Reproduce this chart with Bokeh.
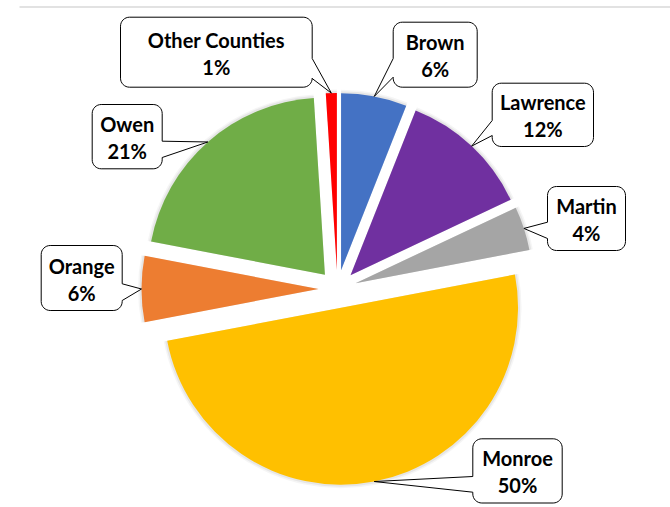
import math
from bokeh.plotting import figure
from bokeh.models import Range1d, ColumnDataSource
from bokeh.core.properties import value
from bokeh.embed import file_html
from bokeh.resources import INLINE

# ---- data ----
counties = ["Brown", "Lawrence", "Martin", "Monroe", "Orange", "Owen", "Other Counties"]
shares = [6, 12, 4, 50, 6, 21, 1]
colors = ["#4472C4", "#7030A0", "#A5A5A5", "#FFC000", "#ED7D31", "#70AD47", "#FF0000"]

# ---- layout (screen pixels, y down) ----
W, H = 670, 507
CX, CY = 337.0, 288.5      # pie centre
R = 177.0                  # pie radius
EXPLODE = 19.0             # slice explosion distance

# callout boxes: (left, top, right, bottom), pointer side, pointer base (y1, y2)
boxes = {
    "Other Counties": ((120, 16.7, 311.7, 86.7), "right", (58, 78)),
    "Brown": ((392.7, 21.7, 476.7, 86.7), "left", (58, 76.7)),
    "Lawrence": ((491.7, 82.7, 593, 146), "left", (120, 135)),
    "Martin": ((547, 186, 625, 250), "left", (221.7, 238)),
    "Owen": ((91.7, 104, 161.7, 168.3), "right", (140.7, 157)),
    "Orange": ((40.7, 245, 121.7, 310), "right", (283.3, 300)),
    "Monroe": ((472.3, 438.3, 561.7, 502.5), "left", (476, 491.7)),
}
CORNER = 9.0


def Y(y):
    return -y


p = figure(width=W, height=H, x_range=Range1d(0, W), y_range=Range1d(-H, 0),
           output_backend="svg", toolbar_location=None, min_border=0,
           x_axis_type=None, y_axis_type=None)
p.grid.visible = False
p.outline_line_color = None
p.background_fill_color = "white"
p.border_fill_color = "white"

# top rule
p.segment(x0=[19], y0=[Y(6.5)], x1=[670], y1=[Y(6.5)], line_color="#D9D9D9", line_width=1.5)

total = float(sum(shares))
starts, ends, mids, xs, ys = [], [], [], [], []
acc = 0.0
for s in shares:
    a0 = acc / total * 360.0
    acc += s
    a1 = acc / total * 360.0
    am = (a0 + a1) / 2.0
    cx = CX + EXPLODE * math.sin(math.radians(am))
    cy = CY - EXPLODE * math.cos(math.radians(am))
    starts.append(90.0 - a0)
    ends.append(90.0 - a1)
    mids.append(am)
    xs.append(cx)
    ys.append(Y(cy))

src = ColumnDataSource(dict(x=xs, y=ys, start=starts, end=ends, color=colors))

# soft shadow
for extra, alpha in [(3.5, 0.04), (2.0, 0.06)]:
    p.wedge(x="x", y="y", radius=R + extra, start_angle="start", end_angle="end",
            start_angle_units="deg", end_angle_units="deg", direction="clock", source=src,
            fill_color="black", fill_alpha=alpha, line_color=None)

p.wedge(x="x", y="y", radius=R, start_angle="start", end_angle="end",
        start_angle_units="deg", end_angle_units="deg", direction="clock", source=src,
        fill_color="color", line_color=None)


def arc_pts(cx, cy, r, a0, a1, n=8):
    pts = []
    for i in range(n + 1):
        a = math.radians(a0 + (a1 - a0) * i / n)
        pts.append((cx + r * math.cos(a), cy + r * math.sin(a)))
    return pts


def callout(box, side, base, tip):
    l, t, r_, b = box
    c = CORNER
    y1, y2 = base
    pts = []
    pts += arc_pts(l + c, t + c, c, 180, 270)
    pts += arc_pts(r_ - c, t + c, c, 270, 360)
    if side == "right":
        pts += [(r_, y1), tip, (r_, y2)]
    pts += arc_pts(r_ - c, b - c, c, 0, 90)
    pts += arc_pts(l + c, b - c, c, 90, 180)
    if side == "left":
        pts += [(l, y2), tip, (l, y1)]
    return [q[0] for q in pts], [Y(q[1]) for q in pts]


px, py = [], []
tx1, ty1, tt1, tx2, ty2, tt2 = [], [], [], [], [], []
for i, name in enumerate(counties):
    box, side, base = boxes[name]
    am = math.radians(mids[i])
    cx = CX + EXPLODE * math.sin(am)
    cy = CY - EXPLODE * math.cos(am)
    tip = (cx + R * math.sin(am), cy - R * math.cos(am))
    xx, yy = callout(box, side, base, tip)
    px.append(xx)
    py.append(yy)
    l, t, r_, b = box
    mx = (l + r_) / 2.0
    my = (t + b) / 2.0
    tx1.append(mx); ty1.append(Y(my - 12.5)); tt1.append(name)
    tx2.append(mx); ty2.append(Y(my + 14.5)); tt2.append(f"{shares[i]}%")

p.patches(xs=px, ys=py, fill_color="white", line_color="black", line_width=1)

for tx, ty, tt in [(tx1, ty1, tt1), (tx2, ty2, tt2)]:
    p.text(x=tx, y=ty, text=tt, text_font=value("Lato"), text_font_style="bold",
           text_font_size="20px", text_align="center", text_baseline="middle",
           text_color="#000000")

open("out.html", "w").write(file_html(p, INLINE))
